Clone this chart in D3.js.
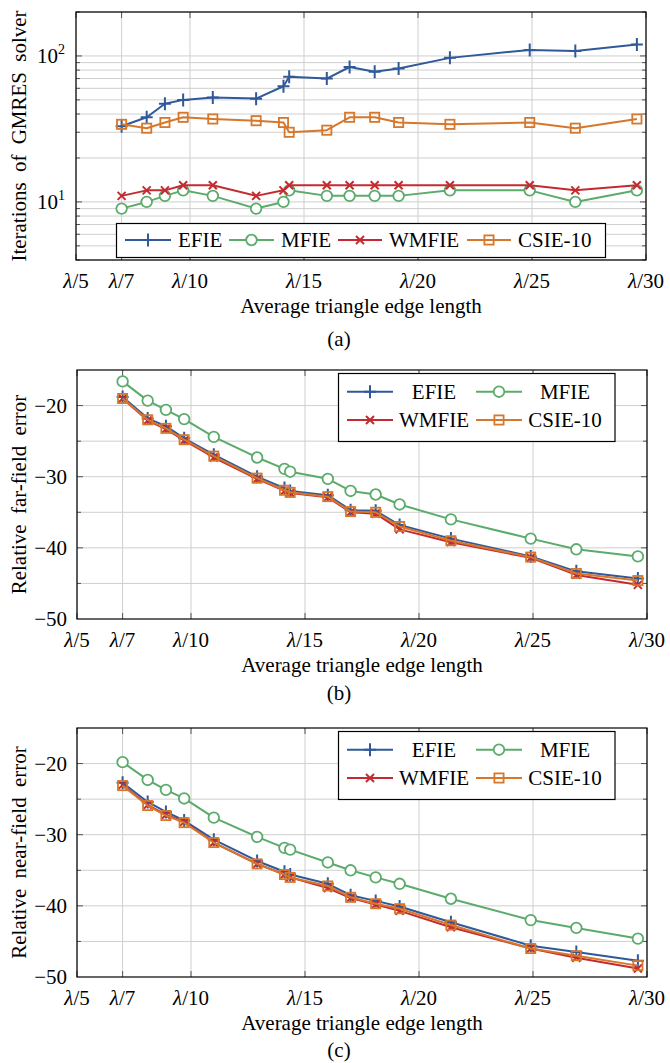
<!DOCTYPE html>
<html>
<head>
<meta charset="utf-8">
<script src="https://cdn.jsdelivr.net/npm/d3@7"></script>
<style>
  html, body { margin: 0; padding: 0; background: #fff; }
  svg { display: block; }
</style>
</head>
<body>
<script>
// ---------------- DATA ----------------
// x = denominator N of the average edge length lambda/N
const edgeN = [7, 8.1, 8.9, 9.7, 11, 12.9, 14.1, 14.35, 16, 17, 18.1, 19.15, 21.4, 24.9, 26.9, 29.6];
const xTickValues = [5, 7, 10, 15, 20, 25, 30];
const xTickDenoms = ["5", "7", "10", "15", "20", "25", "30"];
const seriesNames = ["EFIE", "MFIE", "WMFIE", "CSIE-10"];

// (a) iterations of GMRES solver
const iterEFIE  = [33, 38, 47, 50, 52, 51, 62, 72, 70, 84, 78, 82, 97, 110, 108, 120];
const iterMFIE  = [9, 10, 11, 12, 11, 9, 10, 12, 11, 11, 11, 11, 12, 12, 10, 12];
const iterWMFIE = [11, 12, 12, 13, 13, 11, 12, 13, 13, 13, 13, 13, 13, 13, 12, 13];
const iterCSIE  = [34, 32, 35, 38, 37, 36, 35, 30, 31, 38, 38, 35, 34, 35, 32, 37];

// (b) relative far-field error
const farEFIE  = [-18.8, -21.8, -22.9, -24.6, -26.9, -30.0, -31.6, -32.0, -32.6, -34.7, -34.8, -36.8, -38.7, -41.2, -43.3, -44.3];
const farMFIE  = [-16.6, -19.3, -20.6, -21.9, -24.4, -27.3, -28.9, -29.3, -30.3, -32.0, -32.5, -33.9, -36.0, -38.7, -40.2, -41.2];
const farWMFIE = [-19.0, -22.1, -23.3, -24.9, -27.3, -30.3, -32.0, -32.3, -32.9, -35.0, -35.2, -37.4, -39.2, -41.4, -43.8, -45.2];
const farCSIE  = [-19.0, -22.0, -23.2, -24.8, -27.1, -30.2, -31.9, -32.2, -32.8, -34.9, -35.0, -37.0, -39.0, -41.3, -43.6, -44.6];

// (c) relative near-field error
const nearEFIE  = [-22.7, -25.4, -26.8, -28.0, -30.7, -33.7, -35.2, -35.6, -36.9, -38.5, -39.3, -40.1, -42.3, -45.6, -46.5, -47.7];
const nearMFIE  = [-19.8, -22.3, -23.7, -24.9, -27.6, -30.3, -31.85, -32.1, -33.9, -35.0, -36.0, -36.9, -39.0, -42.0, -43.1, -44.6];
const nearWMFIE = [-23.0, -25.8, -27.2, -28.2, -31.1, -34.1, -35.6, -36.0, -37.5, -38.9, -39.8, -40.7, -43.0, -46.0, -47.3, -48.8];
const nearCSIE  = [-23.1, -25.9, -27.3, -28.3, -31.1, -34.1, -35.6, -36.0, -37.2, -38.8, -39.7, -40.4, -42.7, -46.0, -47.0, -48.4];

const errTicks = [-50, -40, -30, -20];
const errGrid = [-45, -40, -35, -30, -25, -20];
const logMajor = [10, 100];

// ---------------- STYLE ----------------
const colors = ["#30599a", "#5bab6b", "#c42b30", "#d6772c"];
const markers = ["plus", "circle", "cross", "square"];
const FS = 21;
const FONT = "'Liberation Serif', 'DejaVu Serif', 'Times New Roman', Times, serif";
const gridColor = "#cfcfcf";

const W = 670, H = 1063;
const svg = d3.select("body").append("svg").attr("width", W).attr("height", H)
  .attr("font-family", FONT);
svg.append("rect").attr("width", W).attr("height", H).attr("fill", "#fff");

function txt(g) {
  return g.append("text").attr("font-family", FONT).attr("font-size", FS).attr("fill", "#000");
}

function drawMarker(g, type, color) {
  if (type === "plus") {
    g.append("path").attr("d", "M-6,0H6M0,-6.5V6.5").attr("stroke", color).attr("stroke-width", 2).attr("fill", "none");
  } else if (type === "cross") {
    g.append("path").attr("d", "M-4,-4L4,4M-4,4L4,-4").attr("stroke", color).attr("stroke-width", 2).attr("fill", "none");
  } else if (type === "circle") {
    g.append("circle").attr("r", 5.3).attr("stroke", color).attr("stroke-width", 1.8).attr("fill", "#fff");
  } else if (type === "square") {
    g.append("rect").attr("x", -4.6).attr("y", -4.6).attr("width", 9.2).attr("height", 9.2)
      .attr("stroke", color).attr("stroke-width", 1.8).attr("fill", "none");
  }
}

function lambdaLabel(sel, denom) {
  sel.append("tspan").attr("font-style", "italic").text("λ");
  sel.append("tspan").text("/" + denom);
}

function panel(cfg) {
  const { left, right, top, bottom, yScale, seriesData, ylabel, caption, capY } = cfg;
  const x = d3.scaleLinear().domain([5, 30]).range([left, right]);
  const y = yScale.range([bottom, top]);
  const g = svg.append("g");

  // grid
  cfg.yGrid.forEach(v => {
    g.append("line").attr("x1", left).attr("x2", right).attr("y1", y(v)).attr("y2", y(v))
      .attr("stroke", gridColor).attr("stroke-width", 1);
  });
  xTickValues.forEach(v => {
    g.append("line").attr("x1", x(v)).attr("x2", x(v)).attr("y1", top).attr("y2", bottom)
      .attr("stroke", gridColor).attr("stroke-width", 1);
  });

  // tick marks (inward, both sides)
  cfg.yGrid.forEach(v => {
    const len = cfg.yMajor.includes(v) ? 6 : 4;
    g.append("line").attr("x1", left).attr("x2", left + len).attr("y1", y(v)).attr("y2", y(v)).attr("stroke", "#555");
    g.append("line").attr("x1", right - len).attr("x2", right).attr("y1", y(v)).attr("y2", y(v)).attr("stroke", "#555");
  });
  xTickValues.forEach(v => {
    g.append("line").attr("x1", x(v)).attr("x2", x(v)).attr("y1", bottom).attr("y2", bottom - 6).attr("stroke", "#555");
    g.append("line").attr("x1", x(v)).attr("x2", x(v)).attr("y1", top).attr("y2", top + 6).attr("stroke", "#555");
  });

  // series
  const line = d3.line().x(d => x(d[0])).y(d => y(d[1]));
  seriesData.forEach((vals, i) => {
    const pts = edgeN.map((n, k) => [n, vals[k]]);
    g.append("path").attr("d", line(pts)).attr("fill", "none")
      .attr("stroke", colors[i]).attr("stroke-width", 2).attr("stroke-linejoin", "round");
    pts.forEach(p => {
      const mg = g.append("g").attr("transform", `translate(${x(p[0])},${y(p[1])})`);
      drawMarker(mg, markers[i], colors[i]);
    });
  });

  // frame
  g.append("rect").attr("x", left).attr("y", top).attr("width", right - left).attr("height", bottom - top)
    .attr("fill", "none").attr("stroke", "#000").attr("stroke-width", 1.2);

  // x tick labels
  xTickValues.forEach((v, i) => {
    const t = txt(g).attr("x", x(v)).attr("y", bottom + 28).attr("text-anchor", "middle");
    lambdaLabel(t, xTickDenoms[i]);
  });

  // y tick labels
  cfg.yLabelFn(g, y, left);

  // axis labels
  txt(g).attr("x", (left + right) / 2).attr("y", bottom + 53).attr("text-anchor", "middle")
    .text("Average triangle edge length");
  txt(g).attr("transform", `translate(26,${(top + bottom) / 2}) rotate(-90)`)
    .attr("text-anchor", "middle").attr("word-spacing", 5).text(ylabel);
  txt(g).attr("x", 339).attr("y", capY).attr("text-anchor", "middle").text(caption);

  return { g, x, y };
}

function legendEntry(g, i, x1, x2, yc, tx, anchor) {
  g.append("line").attr("x1", x1).attr("x2", x2).attr("y1", yc).attr("y2", yc)
    .attr("stroke", colors[i]).attr("stroke-width", 2);
  drawMarker(g.append("g").attr("transform", `translate(${(x1 + x2) / 2},${yc})`), markers[i], colors[i]);
  txt(g).attr("x", tx).attr("y", yc + 7).attr("text-anchor", anchor).text(seriesNames[i]);
}

// ---------------- PANEL (a) ----------------
const logGrid = [4, 5, 6, 7, 8, 9, 10, 20, 30, 40, 50, 60, 70, 80, 90, 100, 200];
panel({
  left: 76, right: 646, top: 12, bottom: 260,
  yScale: d3.scaleLog().domain([4, 200]),
  yGrid: logGrid, yMajor: logMajor,
  seriesData: [iterEFIE, iterMFIE, iterWMFIE, iterCSIE],
  ylabel: "Iterations of GMRES solver", caption: "(a)", capY: 346,
  yLabelFn: (g, y, left) => {
    logMajor.forEach(v => {
      const t = txt(g).attr("x", left - 11).attr("y", y(v) + 7).attr("text-anchor", "end");
      t.append("tspan").text("10");
      t.append("tspan").attr("font-size", 14).attr("dy", -9).text(String(Math.round(Math.log10(v))));
    });
  }
});
{
  const lg = svg.append("g");
  lg.append("rect").attr("x", 116.5).attr("y", 223.5).attr("width", 489).attr("height", 34)
    .attr("fill", "#fff").attr("stroke", "#000").attr("stroke-width", 1.2);
  legendEntry(lg, 0, 125, 171, 240, 178, "start");
  legendEntry(lg, 1, 229, 274, 240, 281, "start");
  legendEntry(lg, 2, 338, 382, 240, 389, "start");
  legendEntry(lg, 3, 467, 511, 240, 518, "start");
}

// ---------------- PANELS (b), (c) ----------------
function errLabels(g, y, left) {
  errTicks.forEach(v => {
    txt(g).attr("x", left - 10).attr("y", y(v) + 7).attr("text-anchor", "end")
      .text(String(v).replace("-", "\u2212"));
  });
}
function twoColLegend(top) {
  const lg = svg.append("g");
  lg.append("rect").attr("x", 338.5).attr("y", top + 3.5).attr("width", 276.5).attr("height", 68)
    .attr("fill", "#fff").attr("stroke", "#000").attr("stroke-width", 1.2);
  const r1 = top + 21.7, r2 = top + 50;
  legendEntry(lg, 0, 347, 393, r1, 434, "middle");
  legendEntry(lg, 1, 476, 522, r1, 565, "middle");
  legendEntry(lg, 2, 347, 393, r2, 434, "middle");
  legendEntry(lg, 3, 476, 522, r2, 565, "middle");
}

panel({
  left: 77, right: 647, top: 370, bottom: 619,
  yScale: d3.scaleLinear().domain([-50, -15]),
  yGrid: errGrid, yMajor: errTicks,
  seriesData: [farEFIE, farMFIE, farWMFIE, farCSIE],
  ylabel: "Relative far-field error", caption: "(b)", capY: 700,
  yLabelFn: errLabels
});
twoColLegend(370);

panel({
  left: 77, right: 647, top: 728, bottom: 977,
  yScale: d3.scaleLinear().domain([-50, -15]),
  yGrid: errGrid, yMajor: errTicks,
  seriesData: [nearEFIE, nearMFIE, nearWMFIE, nearCSIE],
  ylabel: "Relative near-field error", caption: "(c)", capY: 1057,
  yLabelFn: errLabels
});
twoColLegend(728);
</script>
</body>
</html>
